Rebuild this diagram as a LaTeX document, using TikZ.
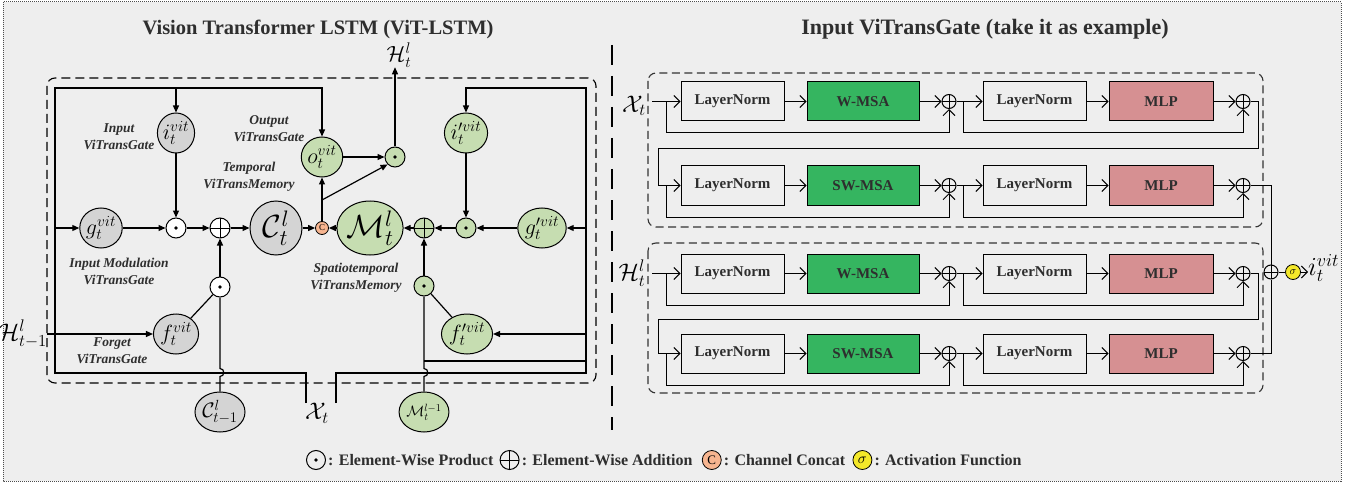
\RequirePackage{fix-cm}
\documentclass[tikz,border=0pt]{standalone}
\usepackage{fontspec}
\setmainfont{Liberation Serif}
\usetikzlibrary{arrows.meta,shapes.geometric,calc}

\definecolor{bgfill}{HTML}{EEEEEE}
\definecolor{gatgray}{HTML}{D4D4D4}
\definecolor{gatgreen}{HTML}{C6DDB1}
\definecolor{msagreen}{HTML}{35B560}
\definecolor{mlppink}{HTML}{D69092}
\definecolor{catorange}{HTML}{F7B590}
\definecolor{sigyellow}{HTML}{F4E82A}
\definecolor{txtgray}{HTML}{2E2E2E}

\tikzset{
  >={Triangle[length=7pt,width=6pt]},
  wire/.style={line width=1.2pt},
  gate/.style={ellipse,draw,line width=1pt,minimum width=37pt,minimum height=40pt,inner sep=0pt,font=\fontsize{22}{22}\selectfont},
  graygate/.style={gate,fill=gatgray},
  greengate/.style={gate,fill=gatgreen},
  cell/.style={minimum width=52pt,minimum height=54pt,font=\fontsize{32}{32}\selectfont},
  opdot/.style={circle,draw,line width=1pt,minimum size=20pt,inner sep=0pt,
    path picture={\fill[black] (path picture bounding box.center) circle[radius=1.9pt];}},
  opplus/.style={circle,draw,line width=1pt,minimum size=20pt,inner sep=0pt,
    path picture={\draw[black,line width=1pt] (path picture bounding box.north) -- (path picture bounding box.south)
      (path picture bounding box.west) -- (path picture bounding box.east);}},
  catop/.style={circle,draw,line width=0.8pt,fill=catorange,minimum size=13pt,inner sep=0pt,font=\fontsize{9}{9}\selectfont},
  sigop/.style={circle,draw,line width=0.8pt,fill=sigyellow,minimum size=15pt,inner sep=0pt,font=\fontsize{11}{11}\selectfont},
  lbl/.style={font=\fontsize{13.5}{17}\selectfont\bfseries\itshape,align=center,text=txtgray},
  mathlbl/.style={font=\fontsize{24}{24}\selectfont,inner sep=0pt},
  title/.style={font=\fontsize{20.5}{22}\selectfont\bfseries,text=txtgray},
  legendtxt/.style={font=\fontsize{16}{17}\selectfont\bfseries,anchor=west,inner sep=0pt,text=txtgray},
  normbox/.style={draw,line width=1pt,minimum width=103pt,minimum height=39pt,inner sep=0pt,font=\fontsize{15}{15}\selectfont\bfseries,text=txtgray},
  msabox/.style={normbox,fill=msagreen,minimum width=112pt},
  mlpbox/.style={normbox,fill=mlppink,minimum width=104pt},
  addop/.style={opplus,minimum size=14pt},
  barb/.style={line width=1pt,-{Straight Barb[length=6pt,width=12pt,line width=1pt]}},
  groupbox/.style={rounded corners=8pt,line width=1.1pt,draw=black!80,dash pattern=on 8pt off 4.5pt}
}

\begin{document}
\begin{tikzpicture}[x=1pt,y=-1pt]
  \useasboundingbox (0,0) rectangle (1364,489);
  \fill[white] (0,0) rectangle (1364,489);
  \filldraw[fill=bgfill,draw=black!70,line width=1pt,dash pattern=on 1pt off 1pt] (3,2) rectangle (1341,481);

  %titles
  \node[title] (ttl) at (318,29) {Vision Transformer LSTM (ViT-LSTM)};
  \node[title,font=\fontsize{22}{22}\selectfont\bfseries] (ttr) at (985,29) {Input ViTransGate (take it as example)};
  \draw[line width=2.5pt,dash pattern=on 20pt off 11pt] (612,45) -- (612,430);

  %vit-lstm cell
  \draw[rounded corners=8pt,line width=1.1pt,dash pattern=on 9pt off 5pt] (47,78) rectangle (596,383);

  \node[graygate] (g) at (101,228) {$g_t^{vit}$};
  \node[opdot,fill=white] (dotI) at (176,228) {};
  \node[opplus,fill=white] (plusC) at (220,228) {};
  \node[graygate,cell] (C) at (276,228) {$\mathcal{C}_t^l$};
  \node[catop] (cat) at (322,228) {C};
  \node[greengate,cell] (M) at (370,228) {$\mathcal{M}_t^l$};
  \node[opplus,fill=gatgreen] (plusM) at (424,228) {};
  \node[opdot,fill=gatgreen] (dotM) at (466,228) {};
  \node[greengate] (gp) at (542,228) {$g_t^{\prime vit}$};

  \node[graygate] (i) at (176,133) {$i_t^{vit}$};
  \node[greengate] (o) at (322,157) {$o_t^{vit}$};
  \node[opdot,fill=gatgreen] (dotH) at (395,157) {};
  \node[greengate] (ip) at (466,133) {$i_t^{\prime vit}$};
  \node[mathlbl,font=\fontsize{22}{22}\selectfont] (Hout) at (399,55) {$\mathcal{H}_t^l$};

  \node[opdot,fill=white] (dotF) at (220,287) {};
  \node[graygate] (f) at (176,334) {$f_t^{vit}$};
  \node[opdot,fill=gatgreen] (dotFp) at (424,286) {};
  \node[greengate] (fp) at (467,334) {$f_t^{\prime vit}$};

  \node[graygate,font=\fontsize{21}{21}\selectfont] (Cprev) at (220,412) {$\mathcal{C}_{t-1}^l$};
  \node[greengate,font=\fontsize{15}{15}\selectfont] (Mprev) at (424,412) {$\mathcal{M}_t^{l-1}$};
  \node[mathlbl] (Xin) at (317,413) {$\mathcal{X}_t$};
  \node[mathlbl,anchor=east] (Hprev) at (47,334) {$\mathcal{H}_{t-1}^l$};

  \node[lbl] (lblI) at (119,137) {Input\\ViTransGate};
  \node[lbl] (lblO) at (269,129) {Output\\ViTransGate};
  \node[lbl] (lblT) at (249,177) {Temporal\\ViTransMemory};
  \node[lbl] (lblG) at (119,271) {Input Modulation\\ViTransGate};
  \node[lbl] (lblF) at (112,351) {Forget\\ViTransGate};
  \node[lbl] (lblS) at (356,278) {Spatiotemporal\\ViTransMemory};

  %frame
  \coordinate (tl) at (55,88);
  \coordinate (bl) at (55,373);
  \coordinate (tr) at (586,88);
  \coordinate (br) at (586,373);
  \coordinate (xl) at (306,403);
  \coordinate (xr) at (336,403);
  \coordinate (mj) at (424,361);
  \coordinate (catj) at (322,200);
  \draw[wire,->] (xl) |- (bl) -- (tl) -| (o);
  \draw[wire,->] (i |- tl) -- (i);
  \draw[wire,->] (g -| tl) -- (g);
  \draw[wire,->] (xr) |- (br) -- (tr) -| (ip);
  \draw[wire,->] (gp -| tr) -- (gp);
  \draw[wire,->] (fp -| tr) -- (fp);
  \draw[wire] (mj) -- (mj -| tr);

  %flow
  \draw[wire,->] (g) -- (dotI);
  \draw[wire,->] (i) -- (dotI);
  \draw[wire,->] (dotI) -- (plusC);
  \draw[wire,->] (dotF) -- (plusC);
  \draw[wire,->] (plusC) -- (C);
  \draw[wire,->] (C) -- (cat);
  \draw[wire,->] (M) -- (cat);
  \draw[wire,->] (plusM) -- (M);
  \draw[wire,->] (dotM) -- (plusM);
  \draw[wire,->] (gp) -- (dotM);
  \draw[wire,->] (ip) -- (dotM);
  \draw[wire,->] (dotFp) -- (plusM);
  \draw[wire,->] (cat) -- (o);
  \draw[wire,->] (catj) -- (dotH.south west);
  \draw[wire,->] (o) -- (dotH);
  \draw[wire,->] (dotH) -- (dotH |- Hout.south);
  \draw[wire] (f) -- (dotF);
  \draw[wire] (fp) -- (dotFp);
  \draw[wire,->] (Hprev.east) -- (f);
  \draw[wire] (Cprev.north) -- ++(0,-15) .. controls +(5,0) and +(5,0) .. ++(0,-8) -- (dotF);
  \draw[wire] (Mprev.north) -- ++(0,-15) .. controls +(5,0) and +(5,0) .. ++(0,-8) -- (dotFp);

  %input vitransgate
  \draw[groupbox] (648,73) rectangle (1263,227);
  \draw[groupbox] (648,243) rectangle (1263,393);

  \foreach \r/\y/\att in {1/101.5/W-MSA,2/185.5/SW-MSA,3/273.5/W-MSA,4/353.5/SW-MSA}{
    \node[normbox] (ln\r) at (732.5,\y) {LayerNorm};
    \node[msabox] (att\r) at (863,\y) {\att};
    \node[addop] (pa\r) at (949,\y) {};
    \node[normbox] (lnb\r) at (1034.5,\y) {LayerNorm};
    \node[mlpbox] (mlp\r) at (1161,\y) {MLP};
    \node[addop] (pb\r) at (1243,\y) {};
    \coordinate (ja\r) at (666,\y);
    \coordinate (jb\r) at (963,\y);
    \draw[barb] (ln\r) -- (att\r);
    \draw[barb] (att\r) -- (pa\r);
    \draw[barb] (pa\r) -- (lnb\r);
    \draw[barb] (lnb\r) -- (mlp\r);
    \draw[barb] (mlp\r) -- (pb\r);
    \draw[barb] (ja\r) -- ++(0,31.5) -| (pa\r.south);
    \draw[barb] (jb\r) -- ++(0,31.5) -| (pb\r.south);
  }

  \node[mathlbl] (Xr) at (634,106) {$\mathcal{X}_t$};
  \node[mathlbl] (Hr) at (632,273) {$\mathcal{H}_t^l$};
  \coordinate (in1) at (652,101.5);
  \coordinate (in3) at (652,273.5);
  \coordinate (lp1) at (658,149);
  \coordinate (lp3) at (658,319);
  \draw[barb] (in1) -- (ln1);
  \draw[barb] (in3) -- (ln3);
  \draw[barb] (pb1.east) -| (1258,149) -- (lp1) |- (ln2);
  \draw[barb] (pb3.east) -| (1258,319) -- (lp3) |- (ln4);

  \node[addop] (fin) at (1271,272) {};
  \node[sigop] (sig) at (1293,272) {$\sigma$};
  \node[anchor=west,inner sep=0pt,font=\fontsize{26}{26}\selectfont] (iout) at (1308,268) {$i_t^{vit}$};
  \draw[line width=1pt] (pb2.east) -| (fin);
  \draw[line width=1pt] (pb4.east) -| (fin);
  \draw[line width=1pt] (fin) -- (sig);
  \draw[barb] (sig) -- (sig -| iout.west);

  %legend
  \node[opdot,minimum size=19pt] (ldot) at (316,460) {};
  \node[legendtxt] (tdot) at ($(ldot.east)+(2,0)$) {: Element-Wise Product};
  \node[opplus,minimum size=19pt] (lplus) at ($(tdot.east)+(16,0)$) {};
  \node[legendtxt] (tplus) at ($(lplus.east)+(2,0)$) {: Element-Wise Addition};
  \node[catop,minimum size=19pt,font=\fontsize{13}{13}\selectfont] (lcat) at ($(tplus.east)+(19,0)$) {C};
  \node[legendtxt] (tcat) at ($(lcat.east)+(2,0)$) {: Channel Concat};
  \node[sigop,minimum size=19pt,font=\fontsize{15}{15}\selectfont] (lsig) at ($(tcat.east)+(17,0)$) {$\sigma$};
  \node[legendtxt] (tsig) at ($(lsig.east)+(2,0)$) {: Activation Function};
\end{tikzpicture}
\end{document}
